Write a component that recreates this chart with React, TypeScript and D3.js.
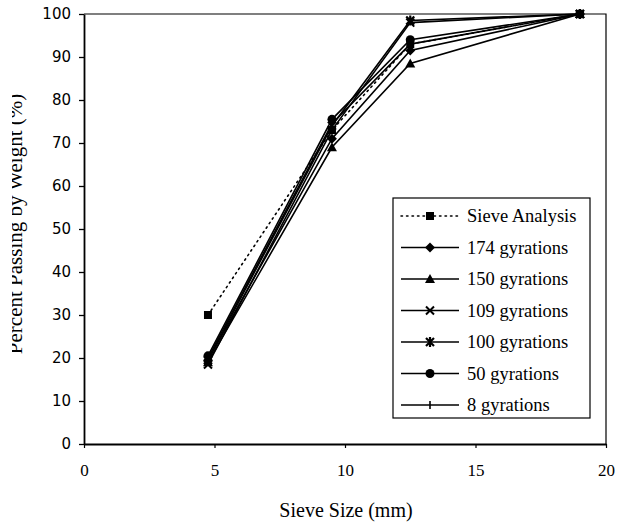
import React, { useEffect, useRef } from "react";
import * as d3 from "d3";

// Sieve sizes (mm) at which percent passing was measured
const sieveSizes = [4.75, 9.5, 12.5, 19.0];

const seriesNames = [
  "Sieve Analysis",
  "174 gyrations",
  "150 gyrations",
  "109 gyrations",
  "100 gyrations",
  "50 gyrations",
  "8 gyrations",
];

// Percent passing by weight for each series, one value per sieve size
const sieveAnalysis = [30, 73, 93, 100];
const gyr174 = [19.5, 71, 91.5, 100];
const gyr150 = [19, 69, 88.5, 100];
const gyr109 = [18.5, 73, 98, 100];
const gyr100 = [19.5, 74, 98.5, 100];
const gyr50 = [20.5, 75.5, 94, 100];
const gyr8 = [20, 74.5, 93, 100];

const seriesValues = [sieveAnalysis, gyr174, gyr150, gyr109, gyr100, gyr50, gyr8];
const markerKinds = ["square", "diamond", "triangle", "cross", "asterisk", "circle", "plus"];

const xTicks = [0, 5, 10, 15, 20];
const yTicks = [0, 10, 20, 30, 40, 50, 60, 70, 80, 90, 100];

const W = 618;
const H = 522;
const M = { left: 84, right: 606, top: 14, bottom: 444 };

function drawMarker(g: d3.Selection<SVGGElement, unknown, null, undefined>, kind: string, cx: number, cy: number) {
  const s = 4;
  if (kind === "square") {
    g.append("rect").attr("x", cx - s).attr("y", cy - s).attr("width", 2 * s).attr("height", 2 * s).attr("fill", "#000");
  } else if (kind === "diamond") {
    g.append("path").attr("d", `M${cx},${cy - 5}L${cx + 5},${cy}L${cx},${cy + 5}L${cx - 5},${cy}Z`).attr("fill", "#000");
  } else if (kind === "triangle") {
    g.append("path").attr("d", `M${cx},${cy - 5}L${cx + 5},${cy + 4}L${cx - 5},${cy + 4}Z`).attr("fill", "#000");
  } else if (kind === "circle") {
    g.append("circle").attr("cx", cx).attr("cy", cy).attr("r", 4.5).attr("fill", "#000");
  } else if (kind === "cross") {
    g.append("path").attr("d", `M${cx - 4},${cy - 4}L${cx + 4},${cy + 4}M${cx - 4},${cy + 4}L${cx + 4},${cy - 4}`)
      .attr("stroke", "#000").attr("stroke-width", 2);
  } else if (kind === "asterisk") {
    g.append("path").attr("d", `M${cx - 4},${cy - 4}L${cx + 4},${cy + 4}M${cx - 4},${cy + 4}L${cx + 4},${cy - 4}M${cx},${cy - 5}L${cx},${cy + 5}`)
      .attr("stroke", "#000").attr("stroke-width", 2.2);
  } else if (kind === "plus") {
    g.append("path").attr("d", `M${cx},${cy - 4}L${cx},${cy + 4}`)
      .attr("stroke", "#000").attr("stroke-width", 1.6);
  }
}

export default function App() {
  const ref = useRef<SVGSVGElement>(null);

  useEffect(() => {
    const svg = d3.select(ref.current);
    svg.selectAll("*").remove();

    const x = d3.scaleLinear().domain([0, 20]).range([M.left, M.right]);
    const y = d3.scaleLinear().domain([0, 100]).range([M.bottom, M.top]);

    const serif = "'Liberation Serif', 'DejaVu Serif', serif";
    const sans = "'DejaVu Sans', 'Liberation Sans', sans-serif";

    // frame
    svg.append("path")
      .attr("d", `M${M.left},${M.top}H${M.right}V${M.bottom}`)
      .attr("fill", "none").attr("stroke", "#000").attr("stroke-width", 1.2);

    // y axis
    const yAxis = svg.append("g").attr("transform", `translate(${M.left},0)`)
      .call(d3.axisLeft(y).tickValues(yTicks).tickSize(5).tickSizeOuter(0).tickPadding(8));
    yAxis.select(".domain").attr("stroke-width", 1.8);
    yAxis.selectAll("line").attr("stroke-width", 1.3);
    yAxis.selectAll("text").attr("font-family", sans).attr("font-size", 15).attr("fill", "#000");

    // x axis
    const xAxis = svg.append("g").attr("transform", `translate(0,${M.bottom})`)
      .call(d3.axisBottom(x).tickValues(xTicks).tickSize(4).tickSizeOuter(0).tickPadding(16));
    xAxis.select(".domain").attr("stroke-width", 1.8);
    xAxis.selectAll("line").attr("stroke-width", 1.2);
    xAxis.selectAll("text").attr("font-family", serif).attr("font-size", 17).attr("fill", "#000");

    // axis titles
    svg.append("text")
      .attr("x", 346).attr("y", 517)
      .attr("text-anchor", "middle").attr("font-family", serif).attr("font-size", 20)
      .text("Sieve Size (mm)");

    svg.append("defs").append("clipPath").attr("id", "ytitle-clip")
      .append("rect").attr("x", 12).attr("y", 0).attr("width", 40).attr("height", H);
    svg.append("g").attr("clip-path", "url(#ytitle-clip)")
      .append("text")
      .attr("transform", `translate(22,224) rotate(-90)`)
      .attr("text-anchor", "middle").attr("font-family", serif).attr("font-size", 21)
      .text("Percent Passing by Weight (%)");

    // series lines and markers
    const line = d3.line<number>().x((_, i) => x(sieveSizes[i])).y((d) => y(d));
    seriesValues.forEach((vals, si) => {
      svg.append("path")
        .attr("d", line(vals))
        .attr("fill", "none").attr("stroke", "#000")
        .attr("stroke-width", 1.6)
        .attr("stroke-dasharray", si === 0 ? "1.5,4" : null)
        .attr("stroke-linecap", si === 0 ? "round" : "butt");
    });
    seriesValues.forEach((vals, si) => {
      const g = svg.append("g");
      vals.forEach((v, i) => drawMarker(g as any, markerKinds[si], x(sieveSizes[i]), y(v)));
    });

    // legend
    const lg = svg.append("g");
    lg.append("rect").attr("x", 393).attr("y", 198).attr("width", 197).attr("height", 220)
      .attr("fill", "#fff").attr("stroke", "#000").attr("stroke-width", 1.2);
    seriesNames.forEach((name, i) => {
      const cy = 216 + i * 31.5;
      lg.append("line").attr("x1", 401).attr("x2", 459).attr("y1", cy).attr("y2", cy)
        .attr("stroke", "#000").attr("stroke-width", 1.5)
        .attr("stroke-dasharray", i === 0 ? "1.5,4" : null)
        .attr("stroke-linecap", i === 0 ? "round" : "butt");
      drawMarker(lg as any, markerKinds[i], 430, cy);
      lg.append("text").attr("x", 467).attr("y", cy + 6)
        .attr("font-family", serif).attr("font-size", 18.5).text(name);
    });
  }, []);

  return (
    <svg
      ref={ref}
      width={W}
      height={H}
      style={{ position: "absolute", left: 0, top: 0, background: "#fff" }}
    />
  );
}
